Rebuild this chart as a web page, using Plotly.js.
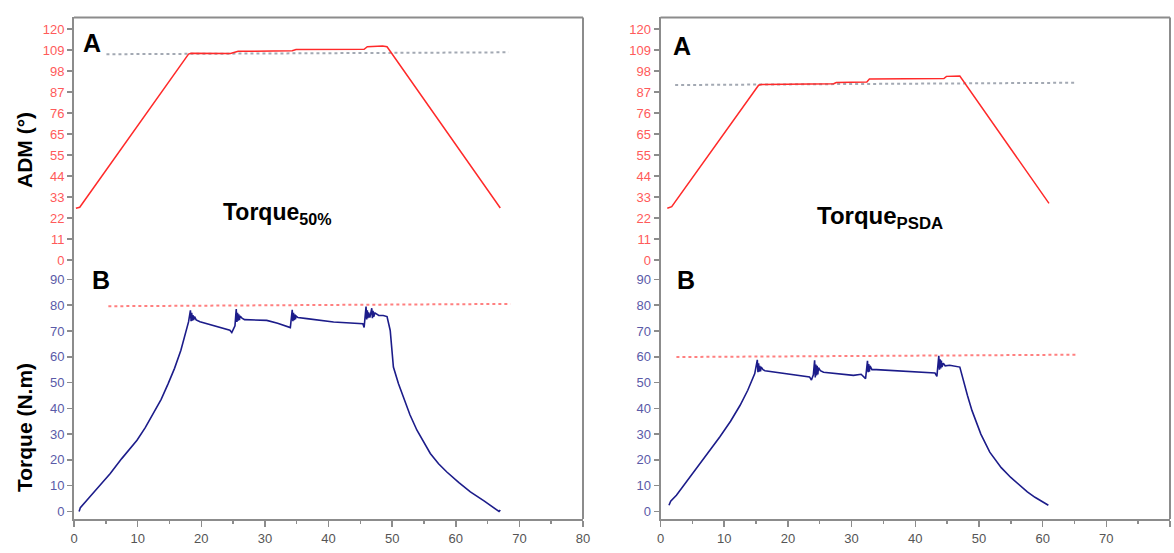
<!DOCTYPE html>
<html>
<head>
<meta charset="utf-8">
<script src="https://cdn.plot.ly/plotly-3.0.1.min.js"></script>
<style>html,body{margin:0;padding:0;background:#fff;}#chart{width:1174px;height:553px;}</style>
</head>
<body>
<div id="chart"></div>
<script>
// ---------- DATA ----------
// Left panel (Torque 50%)
const admLeftX = [0.3, 0.9, 18.0, 18.4, 24.6, 25.3, 25.8, 34.3, 34.9, 45.6, 46.1, 48.5, 49.2, 67.0];
const admLeftY = [26.9, 27.4, 107.0, 107.4, 107.3, 108.0, 108.4, 108.7, 109.4, 109.5, 110.8, 111.2, 110.8, 27.0];
const tqLeftX = [0.8, 1.0, 2.5, 4.0, 5.7, 7.5, 9.9, 11.2, 12.5, 13.7, 14.8, 15.8, 16.8, 17.5, 18.0, 18.3, 18.4, 18.5, 18.6, 18.7, 18.8, 18.95, 19.2, 19.8, 22.0, 24.5, 24.8, 25.3, 25.5, 25.6, 25.7, 25.8, 25.9, 26.0, 26.1, 26.4, 26.8, 30.3, 32.0, 34.0, 34.3, 34.4, 34.5, 34.6, 34.7, 34.8, 34.9, 35.2, 36.6, 40.8, 45.4, 45.6, 45.9, 46.0, 46.1, 46.2, 46.3, 46.5, 46.8, 46.9, 47.0, 47.1, 47.3, 47.9, 48.6, 49.2, 49.7, 50.0, 50.2, 51.0, 51.8, 52.8, 53.9, 55.0, 56.0, 57.3, 58.6, 60.5, 62.3, 64.5, 66.8, 67.0];
const tqLeftY = [0.0, 1.5, 5.7, 10.0, 14.7, 20.5, 27.6, 32.5, 38.0, 43.5, 49.6, 55.5, 62.5, 68.5, 73.5, 78.0, 73.8, 77.0, 74.0, 76.2, 74.2, 75.6, 74.3, 73.6, 72.0, 70.3, 69.4, 72.0, 78.5, 73.5, 77.0, 74.0, 76.5, 74.2, 75.8, 75.0, 74.4, 74.1, 73.0, 71.3, 78.2, 73.8, 77.0, 74.2, 76.4, 74.5, 75.8, 75.2, 74.8, 73.5, 72.8, 71.4, 79.5, 74.5, 78.0, 75.0, 77.2, 75.2, 78.8, 75.0, 77.8, 75.5, 77.0, 76.0, 76.0, 75.6, 70.2, 62.0, 56.0, 49.5, 44.4, 37.5, 31.5, 26.5, 22.5, 18.5, 15.3, 11.2, 7.6, 4.0, 0.0, 0.6];
const admRefLeftX = [5.1, 68.3];
const admRefLeftY = [106.9, 107.9];
const tqRefLeftX = [5.4, 68.6];
const tqRefLeftY = [79.6, 80.5];

// Right panel (Torque PSDA)
const admRightX = [1.07, 1.76, 15.4, 15.8, 27.2, 27.6, 32.4, 32.8, 44.5, 44.9, 47.0, 61.0];
const admRightY = [26.9, 27.7, 90.8, 91.2, 91.6, 92.2, 92.5, 94.0, 94.3, 95.4, 95.6, 29.4];
const tqRightX = [1.33, 1.6, 2.5, 4.3, 6.2, 7.8, 9.3, 11.0, 12.5, 13.7, 14.8, 15.2, 15.3, 15.4, 15.5, 15.6, 15.7, 15.8, 16.1, 16.4, 19.3, 23.4, 23.7, 24.0, 24.2, 24.3, 24.4, 24.5, 24.6, 24.7, 24.8, 25.1, 25.6, 26.6, 30.3, 31.5, 32.2, 32.5, 32.6, 32.7, 32.8, 32.9, 33.2, 33.9, 38.1, 43.1, 43.4, 43.7, 43.8, 43.9, 44.0, 44.1, 44.2, 44.4, 44.7, 45.4, 47.0, 47.5, 48.2, 48.9, 50.3, 51.7, 53.5, 55.0, 56.4, 57.6, 58.8, 60.9];
const tqRightY = [2.4, 4.0, 6.3, 12.3, 18.6, 23.7, 28.9, 35.0, 41.2, 47.0, 53.5, 58.8, 54.0, 57.5, 54.2, 56.5, 54.3, 56.0, 55.0, 54.6, 53.7, 52.2, 51.0, 53.0, 58.6, 52.0, 57.0, 52.8, 56.5, 53.2, 55.8, 54.6, 54.0, 53.7, 52.8, 53.2, 51.5, 58.4, 54.0, 57.2, 54.2, 56.5, 55.0, 55.0, 54.5, 53.7, 52.4, 60.4, 55.0, 59.0, 55.5, 58.5, 56.0, 57.5, 56.5, 56.7, 56.0, 50.9, 45.0, 39.2, 30.0, 23.0, 17.0, 13.2, 10.0, 7.6, 5.5, 2.4];
const admRefRightX = [2.3, 65.3];
const admRefRightY = [90.9, 92.1];
const tqRefRightX = [2.5, 65.5];
const tqRefRightY = [59.9, 60.8];

// Tick labels
const admTickVals = [0, 10.909, 21.818, 32.727, 43.636, 54.545, 65.455, 76.364, 87.273, 98.182, 109.091, 120];
const admTickText = ['0', '11', '22', '33', '44', '55', '65', '76', '87', '98', '109', '120'];
const tqTickVals = [0, 10, 20, 30, 40, 50, 60, 70, 80, 90];
const xTickVals = [0, 10, 20, 30, 40, 50, 60, 70, 80];

// ---------- STYLE ----------
const FONT = 'Liberation Sans, Arial, sans-serif';
const RED = '#ff2a2a';
const NAVY = '#1c1c8a';
const AXC = '#8c8c8c';
const yBot = 0.0615, ySplit = 0.519, yTop = 0.9684;
const leftDom = [74/1174, 583/1174];
const rightDom = [660.5/1174, 1170/1174];

function line(x, y, xa, ya, color, width, dash) {
  return {x: x, y: y, xaxis: xa, yaxis: ya, type: 'scatter', mode: 'lines',
          line: {color: color, width: width, dash: dash || 'solid'}, hoverinfo: 'skip', showlegend: false};
}

const data = [
  line(admRefLeftX, admRefLeftY, 'x', 'y2', '#a3a9b3', 2, 'dot'),
  line(admLeftX, admLeftY, 'x', 'y2', RED, 1.5),
  line(tqRefLeftX, tqRefLeftY, 'x', 'y', '#ff8080', 2, 'dot'),
  line(tqLeftX, tqLeftY, 'x', 'y', NAVY, 1.6),
  line(admRefRightX, admRefRightY, 'x2', 'y4', '#a3a9b3', 2, 'dot'),
  line(admRightX, admRightY, 'x2', 'y4', RED, 1.5),
  line(tqRefRightX, tqRefRightY, 'x2', 'y3', '#ff8080', 2, 'dot'),
  line(tqRightX, tqRightY, 'x2', 'y3', NAVY, 1.6)
];

function xAx(dom, anchor) {
  return {domain: dom, anchor: anchor, range: [0, 80], showgrid: false, zeroline: false,
          showline: true, linecolor: AXC, linewidth: 2, ticks: 'outside', ticklen: 6, tickwidth: 1.5, tickcolor: AXC,
          tickvals: xTickVals, ticktext: xTickVals.map(String),
          tickfont: {family: FONT, size: 13, color: '#555'},
          minor: {dtick: 5, tick0: 0, ticks: 'outside', ticklen: 3, tickwidth: 1.5, tickcolor: AXC, showgrid: false}};
}
function tqAx(anchor) {
  return {domain: [yBot, ySplit], anchor: anchor, range: [-2.91, 95.2], showgrid: false, zeroline: false,
          showline: true, linecolor: AXC, linewidth: 2, ticks: 'outside', ticklen: 5, tickwidth: 1.5, tickcolor: AXC,
          tickvals: tqTickVals, ticktext: tqTickVals.map(String),
          tickfont: {family: FONT, size: 13, color: '#5a5aa8'}};
}
function admAx(anchor) {
  return {domain: [ySplit, yTop], anchor: anchor, range: [-3.12, 126.0], showgrid: false, zeroline: false,
          showline: true, linecolor: AXC, linewidth: 2, ticks: 'outside', ticklen: 5, tickwidth: 1.5, tickcolor: AXC,
          tickvals: admTickVals, ticktext: admTickText,
          tickfont: {family: FONT, size: 13, color: '#ff5a5a'}};
}

function frame(xd) {
  return [
    {type: 'line', xref: xd, yref: 'paper', x0: 0, x1: 1, y0: yTop, y1: yTop, line: {color: AXC, width: 2}},
    {type: 'line', xref: xd, yref: 'paper', x0: 1, x1: 1, y0: yBot, y1: yTop, line: {color: AXC, width: 2}}
  ];
}

function ann(text, px, py, size, angle) {
  return {text: text, xref: 'paper', yref: 'paper', x: px / 1174, y: 1 - py / 553,
          xanchor: 'center', yanchor: 'middle', showarrow: false, textangle: angle || 0,
          font: {family: FONT, size: size, color: '#000'}};
}

const layout = {
  width: 1174, height: 553,
  margin: {l: 0, r: 0, t: 0, b: 0},
  paper_bgcolor: '#fff', plot_bgcolor: '#fff',
  showlegend: false,
  xaxis: xAx(leftDom, 'y'),
  yaxis: tqAx('x'),
  yaxis2: admAx('x'),
  xaxis2: xAx(rightDom, 'y3'),
  yaxis3: tqAx('x2'),
  yaxis4: admAx('x2'),
  shapes: frame('x domain').concat(frame('x2 domain')),
  annotations: [
    ann('<b>A</b>', 92, 43, 25),
    ann('<b>B</b>', 101, 280, 25),
    ann('<b>A</b>', 682, 46, 25),
    ann('<b>B</b>', 686, 280, 25),
    ann('<b>Torque<sub>50%</sub></b>', 277, 214, 23),
    ann('<b>Torque<sub>PSDA</sub></b>', 880, 217, 24),
    ann('<b>ADM (°)</b>', 24, 150, 21, -90),
    ann('<b>Torque (N.m)</b>', 24, 428, 21, -90)
  ]
};

Plotly.newPlot('chart', data, layout, {displayModeBar: false, staticPlot: true});
</script>
</body>
</html>
